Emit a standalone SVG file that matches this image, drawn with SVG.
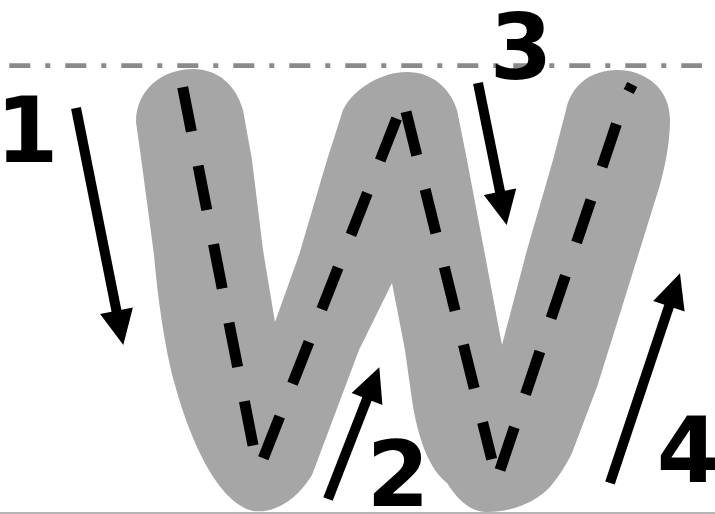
<svg xmlns="http://www.w3.org/2000/svg" width="715" height="514" viewBox="0 0 715 514">
<style>
.guide{stroke:#8a8a8a;stroke-width:4.7;stroke-dasharray:21 15 5 15;fill:none}
.base{stroke:#b4b4b4;stroke-width:2;fill:none}
.letter{fill:#a6a6a6}
.dash{stroke:#000;stroke-width:11;stroke-dasharray:45 35;fill:none;stroke-linecap:butt}
.shaft{stroke:#000;stroke-width:10;fill:none}
.head{fill:#000}
.num{font-family:"DejaVu Sans",sans-serif;font-weight:bold;font-size:90px;fill:#000;text-anchor:middle}
</style>
<rect width="715" height="514" fill="#fff"/>
<g id="guides">
<line class="guide" x1="9.3" y1="65.7" x2="702" y2="65.7"/>
<line class="base" x1="0" y1="513" x2="715" y2="513"/>
</g>
<g id="letter-W">
<path class="letter" d="M193,69 C162,69 136,90 136,122 L142,165 L154,255 C158,300 165,350 175,385 C190,440 218,503 253,511 C276,514 298,498 312,475 L359,350 L392,283 L405,350 L412,400 C418,440 430,470 447,483 C458,500 470,512 487,512 C515,512 538,500 550,487 C560,475 566,465 572,453 L597,387 L618,320 L659,188 C665,168 670,142 670,120 C670,88 645,70 617,70 C590,70 571,86 566,110 L553,160 L527,250 L502,345 L485,255 L467,160 L457,110 C450,88 432,72 407,72 C382,72 354,88 343,110 L327,160 L299,255 L275,322 L263,250 L252,160 L243,110 C236,85 218,69 193,69 Z"/>
</g>
<g id="stroke-paths">
<line class="dash" x1="182.7" y1="87.3" x2="253.3" y2="446.7"/>
<line class="dash" x1="263.3" y1="458.3" x2="396.7" y2="118.3"/>
<line class="dash" x1="406" y1="111.7" x2="491.7" y2="459.3"/>
<line class="dash" x1="500" y1="470" x2="616.7" y2="123.3"/>
<line x1="625.5" y1="85.5" x2="635.5" y2="90.5" stroke="#000" stroke-width="8"/>
</g>
<g id="arrows">
<g id="arrow-1">
<line class="shaft" x1="76" y1="108" x2="117.4" y2="315.6"/>
<polygon class="head" points="123.3,345 132.9,307.4 100.1,314"/>
</g>
<g id="arrow-2">
<line class="shaft" x1="328" y1="499" x2="368.4" y2="395.3"/>
<polygon class="head" points="379.3,367.3 382.4,405 351.6,393"/>
</g>
<g id="arrow-3">
<line class="shaft" x1="478" y1="83" x2="500.8" y2="195.6"/>
<polygon class="head" points="506.7,225 516.2,188.4 483.8,195"/>
</g>
<g id="arrow-4">
<line class="shaft" x1="610" y1="483" x2="670.5" y2="301.8"/>
<polygon class="head" points="680,273.3 684.6,311.4 653.2,301"/>
</g>
</g>
<g id="labels">
<text class="num" x="27" y="162">1</text>
<text class="num" x="521" y="79">3</text>
<text class="num" x="398" y="506">2</text>
<text class="num" x="688" y="482">4</text>
</g>
</svg>
